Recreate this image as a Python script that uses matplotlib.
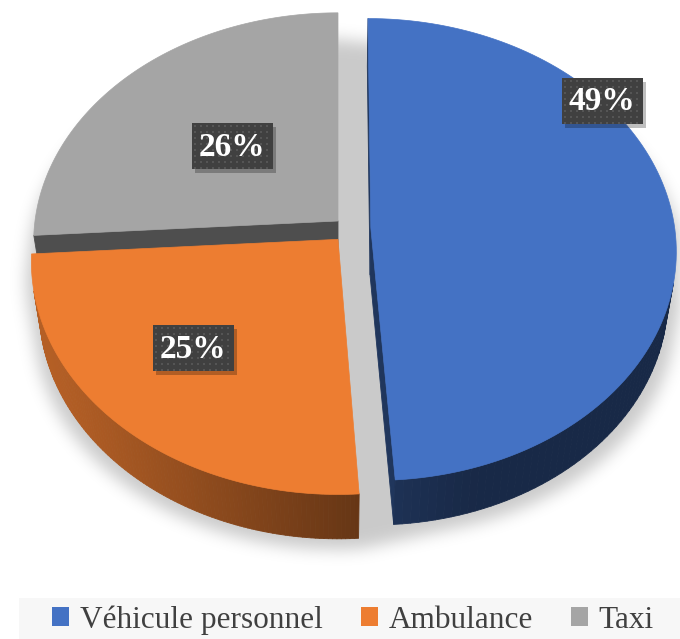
import matplotlib
matplotlib.use("Agg")
import matplotlib.pyplot as plt
import numpy as np
from matplotlib.collections import PolyCollection
from matplotlib.patches import Patch, Polygon, Rectangle
from matplotlib.path import Path

plt.rcParams["font.family"] = ["Liberation Serif", "DejaVu Serif"]

# data
categories = ["Véhicule personnel", "Ambulance", "Taxi"]
shares = [49, 25, 26]
pct_labels = ["49%", "25%", "26%"]

# style
colors = ["#4472C4", "#ED7D31", "#A5A5A5"]
explode = [(0.108, -0.03), (0.0, -0.08), (0.0, 0.0)]  # slice offsets on the pie plane
label_xy = [(602, 101), (193, 348), (232, 146)]       # label box centres, pixels

W, H = 680, 639
ELEV = np.deg2rad(48.7)
DIST = 7.06
SCALE = 303
CX, CY = 338, 221
THICK = 0.24
SIN, COS = np.sin(ELEV), np.cos(ELEV)
CAM = np.array([0.0, -DIST * COS, DIST * SIN])
LIGHT = np.array([-1.0, -0.35]) / np.hypot(1.0, 0.35)


def project(X, Y, Z):
    X, Y, Z = np.asarray(X, float), np.asarray(Y, float), np.asarray(Z, float)
    yc = Y * SIN + Z * COS
    depth = Y * COS - Z * SIN + DIST
    return CX + SCALE * X * DIST / depth, CY - SCALE * yc * DIST / depth, depth


def shade(color, f):
    rgb = np.array(matplotlib.colors.to_rgb(color))
    return tuple(np.clip(rgb * f, 0, 1))


def convex_hull(pts):
    pts = sorted(set(map(tuple, np.round(pts, 2))))
    def cross(o, a, b):
        return (a[0] - o[0]) * (b[1] - o[1]) - (a[1] - o[1]) * (b[0] - o[0])
    lower, upper = [], []
    for p in pts:
        while len(lower) >= 2 and cross(lower[-2], lower[-1], p) <= 0:
            lower.pop()
        lower.append(p)
    for p in reversed(pts):
        while len(upper) >= 2 and cross(upper[-2], upper[-1], p) <= 0:
            upper.pop()
        upper.append(p)
    return np.array(lower[:-1] + upper[:-1])


def gaussian_blur(img, sigma):
    r = int(3 * sigma)
    k = np.exp(-0.5 * (np.arange(-r, r + 1) / sigma) ** 2)
    k /= k.sum()
    out = np.array([np.convolve(row, k, mode="same") for row in img])
    out = np.array([np.convolve(col, k, mode="same") for col in out.T]).T
    return out


fig = plt.figure(figsize=(W / 100, H / 100), dpi=100)
ax = fig.add_axes([0, 0, 1, 1])
ax.set_xlim(0, W)
ax.set_ylim(H, 0)
ax.axis("off")

# geometry of every slice
fracs = np.array(shares, float) / sum(shares)
bounds = np.concatenate([[0], np.cumsum(fracs)]) * 360.0

lower_faces = []  # (depth, polygon, colour)
top_faces = []
outline_pts = []
for i, col in enumerate(colors):
    ox, oy = explode[i]
    cw = np.linspace(bounds[i], bounds[i + 1], 120)
    th = np.pi / 2 - np.deg2rad(cw)
    rx, ry = ox + np.cos(th), oy + np.sin(th)

    tx, ty, _ = project(rx, ry, 0 * rx)
    bx, by, _ = project(rx, ry, 0 * rx - THICK)
    cxt, cyt, _ = project(ox, oy, 0)
    cxb, cyb, _ = project(ox, oy, -THICK)
    top_faces.append((np.column_stack([np.r_[cxt, tx], np.r_[cyt, ty]]), col))
    outline_pts += [np.column_stack([tx, ty]), np.column_stack([bx, by]),
                    [[cxt, cyt], [cxb, cyb]]]

    # outer wall
    for j in range(len(th) - 1):
        tm = 0.5 * (th[j] + th[j + 1])
        n = np.array([np.cos(tm), np.sin(tm), 0.0])
        p = np.array([ox + np.cos(tm), oy + np.sin(tm), -THICK / 2])
        if n @ (CAM - p) <= 0:
            continue
        f = 0.36 + 0.4 * max(0.0, n[:2] @ LIGHT) ** 1.3
        quad = [(tx[j], ty[j]), (tx[j + 1], ty[j + 1]), (bx[j + 1], by[j + 1]), (bx[j], by[j])]
        _, _, d = project(p[0], p[1], p[2])
        lower_faces.append((float(d), quad, shade(col, f)))

    # cut faces
    for t, n2 in ((th[0], (-np.sin(th[0]), np.cos(th[0]))),
                  (th[-1], (np.sin(th[-1]), -np.cos(th[-1])))):
        n = np.array([n2[0], n2[1], 0.0])
        p = np.array([ox + 0.5 * np.cos(t), oy + 0.5 * np.sin(t), -THICK / 2])
        if n @ (CAM - p) <= 0:
            continue
        ex, ey = ox + np.cos(t), oy + np.sin(t)
        qx, qy, _ = project([ox, ex, ex, ox], [oy, ey, ey, oy], [0, 0, -THICK, -THICK])
        _, _, d = project(p[0], p[1], p[2])
        lower_faces.append((float(d), list(zip(qx, qy)), shade(col, 0.47)))

# soft shadow under the pie
hull = convex_hull(np.vstack(outline_pts))
hcx, hcy = hull[:, 0].mean(), hull[:, 1].mean()
shadow = np.column_stack([hcx + (hull[:, 0] - hcx) * 1.02,
                          hcy + (hull[:, 1] - hcy) * 0.97 + 19])
gx, gy = np.meshgrid(np.arange(W) + 0.5, np.arange(H) + 0.5)
mask = Path(shadow).contains_points(np.column_stack([gx.ravel(), gy.ravel()])).reshape(H, W)
blur = gaussian_blur(mask.astype(float), 8)
rgba = np.zeros((H, W, 4))
rgba[..., 3] = 0.21 * blur
ax.imshow(rgba, extent=(0, W, H, 0), zorder=0, interpolation="bilinear")

lower_faces.sort(key=lambda f: -f[0])
ax.add_collection(PolyCollection([f[1] for f in lower_faces], facecolors=[f[2] for f in lower_faces],
                                 edgecolors=[f[2] for f in lower_faces], linewidths=0.6, zorder=2))
for poly, col in top_faces:
    ax.add_patch(Polygon(poly, closed=True, facecolor=col, edgecolor=col, linewidth=0.5, zorder=3))

# data labels
for (lx, ly), txt in zip(label_xy, pct_labels):
    bw, bh = 81, 46
    ax.add_patch(Rectangle((lx - bw / 2 + 3, ly - bh / 2 + 4), bw, bh, facecolor="black",
                           alpha=0.25, linewidth=0, zorder=4))
    ax.add_patch(Rectangle((lx - bw / 2, ly - bh / 2), bw, bh, facecolor="#404040",
                           linewidth=0, zorder=5))
    dx, dy = np.meshgrid(np.arange(lx - bw / 2 + 3, lx + bw / 2, 6),
                         np.arange(ly - bh / 2 + 3, ly + bh / 2, 6))
    ax.scatter(dx.ravel(), dy.ravel(), s=1.5, marker="s", color="#555555", linewidths=0, zorder=5.5)
    ax.text(lx, ly + 1, txt, ha="center", va="center", color="white", fontsize=24,
            fontweight="bold", zorder=6)

# legend strip
ax.add_patch(Rectangle((19, 598), W - 19, H - 598, facecolor="#f7f7f7", linewidth=0, zorder=0.5))
handles = [Patch(facecolor=c, edgecolor="none") for c in colors]
leg = ax.legend(handles, categories, loc="center", bbox_to_anchor=(353 / W, 1 - 620 / H),
                ncol=3, frameon=False, fontsize=22.5, handlelength=0.55, handleheight=0.55,
                handletextpad=0.35, columnspacing=1.2, borderaxespad=0)
for t in leg.get_texts():
    t.set_color("#404040")

fig.savefig("out.png", dpi=100)
